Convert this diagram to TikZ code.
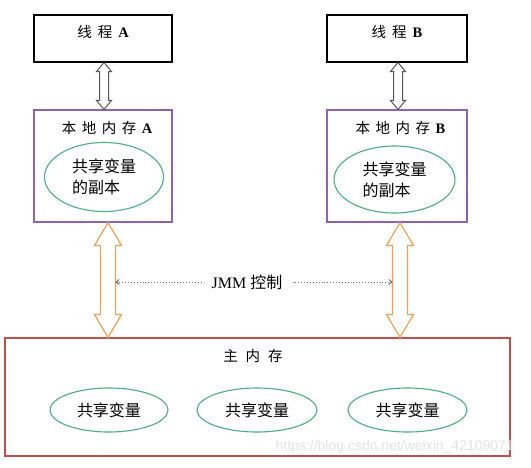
\documentclass[tikz,border=0pt]{standalone}
\usepackage{fontspec}
\setmainfont{Liberation Serif}
\newfontfamily\cjk{Noto Sans CJK SC}
\newfontfamily\wmfont{Liberation Sans}
\usetikzlibrary{shapes.geometric,arrows.meta,calc}
\definecolor{boxpurple}{HTML}{8E63B5}
\definecolor{boxred}{HTML}{C0504D}
\definecolor{ellgreen}{HTML}{4BAF7E}
\definecolor{arrorange}{HTML}{F0A05A}
\definecolor{arrgrey}{HTML}{555555}
\newcommand{\dblarrow}[6]{%
  \draw[#6] let \p1=(#1), \p2=(#2) in
    (\x1,\y1) -- (\x1+#4pt,\y1-#5pt) -- (\x1+#3pt,\y1-#5pt) -- (\x1+#3pt,\y2+#5pt)
    -- (\x1+#4pt,\y2+#5pt) -- (\x1,\y2) -- (\x1-#4pt,\y2+#5pt) -- (\x1-#3pt,\y2+#5pt)
    -- (\x1-#3pt,\y1-#5pt) -- (\x1-#4pt,\y1-#5pt) -- cycle;}
\tikzset{
  threadbox/.style={draw=black, line width=1.1pt, minimum width=138pt, minimum height=47pt, inner sep=0pt},
  localbox/.style={draw=boxpurple, line width=1.1pt, minimum width=139pt, minimum height=112pt, inner sep=0pt},
  mainbox/.style={draw=boxred, line width=1.1pt, minimum width=505pt, minimum height=118pt, inner sep=0pt},
  ell/.style={ellipse, draw=ellgreen, line width=1.1pt, inner sep=0pt, font=\cjk\fontsize{16}{21}\selectfont},
  title/.style={font=\fontsize{14.5}{16}\selectfont, inner sep=0pt},
  greyarrow/.style={draw=arrgrey, fill=white, line width=1pt, line join=miter},
  orangearrow/.style={draw=arrorange, fill=white, line width=1.2pt, line join=miter},
  dotarrow/.style={draw=gray!80!black, dotted, line width=0.9pt, -{Straight Barb[length=3pt,width=5pt]}}
}
\begin{document}
\begin{tikzpicture}[x=1pt,y=-1pt]
\useasboundingbox[fill=white] (0,0) rectangle (531,467);
% boxes
\node[threadbox] (ta) at (103,38.5) {};
\node[threadbox, minimum width=140pt] (tb) at (397,38.5) {};
\node[localbox, minimum width=138pt] (la) at (103,166) {};
\node[localbox, minimum width=140pt] (lb) at (397,166) {};
\node[mainbox] (mm) at (257.5,397) {};
% titles
\node[title] (tat) at (103,32) {{\cjk 线\hspace{6pt}程}\hspace{6pt}\textbf{A}};
\node[title] (tbt) at (397,32) {{\cjk 线\hspace{6pt}程}\hspace{6pt}\textbf{B}};
\node[title] (lat) at (107,128) {{\cjk 本\hspace{5.5pt}地\hspace{5.5pt}内\hspace{5.5pt}存}\hspace{5.5pt}\textbf{A}};
\node[title] (lbt) at (400.5,128) {{\cjk 本\hspace{5.5pt}地\hspace{5.5pt}内\hspace{5.5pt}存}\hspace{5.5pt}\textbf{B}};
\node[title] (mmt) at (253,356) {{\cjk 主\hspace{8pt}内\hspace{8pt}存}};
% ellipses
\node[ell, minimum width=119pt, minimum height=69pt, align=left] (ea) at (104,177) {共享变量\\的副本};
\node[ell, minimum width=121pt, minimum height=67pt, align=left] (eb) at (394.5,179.5) {共享变量\\的副本};
\node[ell, minimum width=118pt, minimum height=44pt] (m1) at (109,410) {共享变量};
\node[ell, minimum width=120pt, minimum height=44pt] (m2) at (257,410) {共享变量};
\node[ell, minimum width=119pt, minimum height=44pt] (m3) at (407.5,410) {共享变量};
% grey arrows thread <-> local memory
\coordinate (gat) at ($(ta.south)+(1,0)$);
\coordinate (gab) at ($(la.north)+(1,0)$);
\coordinate (gbt) at ($(tb.south)+(1,0)$);
\coordinate (gbb) at ($(lb.north)+(1,0)$);
\dblarrow{gat}{gab}{4.5}{7.5}{9}{greyarrow}
\dblarrow{gbt}{gbb}{4.5}{7.5}{9}{greyarrow}
% orange arrows local memory <-> main memory
\coordinate (oat) at ($(la.south)+(5,0)$);
\coordinate (obt) at ($(lb.south)+(3,0)$);
\coordinate (oab) at (oat |- mm.north);
\coordinate (obb) at (obt |- mm.north);
\dblarrow{oat}{oab}{7.5}{13.5}{23}{orangearrow}
\dblarrow{obt}{obb}{7.5}{13.5}{23}{orangearrow}
% JMM control
\node[font=\fontsize{16}{18}\selectfont, inner sep=0pt] (jmm) at (247,282) {JMM {\cjk 控制}};
\coordinate (jl) at ($(oat)+(7.5,0)$);
\coordinate (jr) at ($(obt)+(-7.5,0)$);
\draw[dotarrow] ($(jmm.west)+(-10,0)$) -- (jl |- jmm.west);
\draw[dotarrow] ($(jmm.east)+(10,0)$) -- (jr |- jmm.east);
% watermark
\node[font=\wmfont\fontsize{14}{16}\selectfont, text=gray!22, inner sep=0pt, anchor=east] (wm) at (514,447) {https://blog.csdn.net/weixin\_42109071};
\end{tikzpicture}
\end{document}
